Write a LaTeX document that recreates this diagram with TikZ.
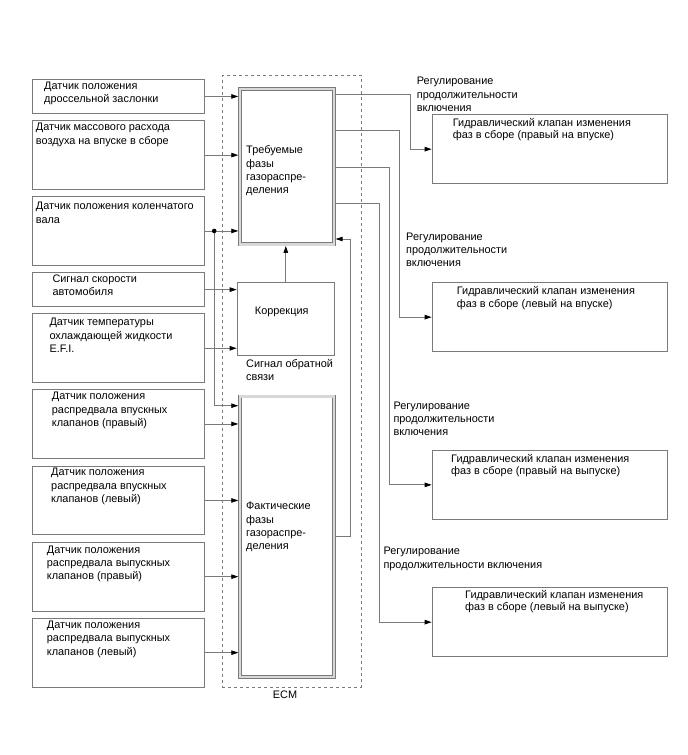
\documentclass[tikz,border=0pt]{standalone}
\usepackage{fontspec}
\setmainfont{Liberation Sans}
\usetikzlibrary{arrows.meta}
\definecolor{lc}{HTML}{7A7A7A}
\definecolor{dbl}{HTML}{D8D8D8}
\begin{document}
\begin{tikzpicture}[x=1pt,y=-1pt,
  every node/.style={font=\fontsize{10.9}{13.3}\selectfont},
  box/.style={draw=lc, line width=0.9pt, anchor=north west, inner sep=0, minimum width=172pt},
  vbox/.style={draw=lc, line width=0.9pt, anchor=north west, inner sep=0, minimum width=235pt, minimum height=68.8pt},
  dbox/.style={draw=lc, line width=0.7pt, double=dbl, double distance=2.4pt, anchor=north west, inner sep=0, outer sep=1.6pt, minimum width=94.1pt},
  txt/.style={anchor=north west, inner sep=0, align=left},
  vtxt/.style={anchor=north west, inner sep=0, align=left, font=\fontsize{10.9}{12.3}\selectfont},
  arr/.style={draw=lc, line width=0.8pt, -{Triangle[length=7pt,width=4.5pt,color=black]}},
  ln/.style={draw=lc, line width=0.8pt}]
\useasboundingbox (0,0) rectangle (688,755);
% ECM frame
\node[draw=lc, line width=0.8pt, dash pattern=on 3pt off 3pt, anchor=north west, inner sep=0, minimum width=139pt, minimum height=611.7pt] (ecm) at (221.7,75) {};
\node (ecml) at (285,695) {ECM};
% sensors
\node[box, minimum height=34pt] (s1) at (32,79) {};
\node[box, minimum height=68.7pt] (s2) at (32,120.3) {};
\node[box, minimum height=69pt] (s3) at (32,196) {};
\node[box, minimum height=33.7pt] (s4) at (32,272.3) {};
\node[box, minimum height=69pt] (s5) at (32,313.3) {};
\node[box, minimum height=68.4pt] (s6) at (32,389.3) {};
\node[box, minimum height=68.6pt] (s7) at (32,465.7) {};
\node[box, minimum height=69pt] (s8) at (32,541.7) {};
\node[box, minimum height=69pt] (s9) at (32,617.7) {};
\node[txt] (t1) at (44,81.5) {Датчик положения\\дроссельной заслонки};
\node[txt] (t2) at (35.7,123.2) {Датчик массового расхода\\воздуха на впуске в сборе};
\node[txt] (t3) at (35.7,202.2) {Датчик положения коленчатого\\вала};
\node[txt] (t4) at (52.3,274.5) {Сигнал скорости\\автомобиля};
\node[txt] (t5) at (49.3,318.2) {Датчик температуры\\охлаждающей жидкости\\E.F.I.};
\node[txt] (t6) at (51.7,392.2) {Датчик положения\\распредвала впускных\\клапанов (правый)};
\node[txt] (t7) at (51,468.2) {Датчик положения\\распредвала впускных\\клапанов (левый)};
\node[txt] (t8) at (46.7,545.5) {Датчик положения\\распредвала выпускных\\клапанов (правый)};
\node[txt] (t9) at (46.7,620.8) {Датчик положения\\распредвала выпускных\\клапанов (левый)};
% ECM blocks
\node[dbox, minimum height=155.4pt] (req) at (238.3,87.3) {};
\node[txt] (treq) at (246,145.8) {Требуемые\\фазы\\газораспре-\\деления};
\node[draw=lc, line width=0.9pt, anchor=north west, inner sep=0, minimum width=97.3pt, minimum height=72.7pt] (cor) at (236.7,282.3) {};
\node (tcor) at (281.7,311.5) {Коррекция};
\node[txt] (fb) at (246,358.8) {Сигнал обратной\\связи};
\node[dbox, minimum height=280.2pt] (act) at (238.3,394.9) {};
\node[txt] (tact) at (246,502.2) {Фактические\\фазы\\газораспре-\\деления};
% valves
\node[vbox] (v1) at (431.7,114.3) {};
\node[vbox] (v2) at (431.7,282.3) {};
\node[vbox] (v3) at (431.7,450) {};
\node[vbox] (v4) at (431.7,587.3) {};
\node[vtxt] (tv1) at (452.7,118.2) {Гидравлический клапан изменения\\фаз в сборе (правый на впуске)};
\node[vtxt] (tv2) at (456.7,286.5) {Гидравлический клапан изменения\\фаз в сборе (левый на впуске)};
\node[vtxt] (tv3) at (451,454.2) {Гидравлический клапан изменения\\фаз в сборе (правый на выпуске)};
\node[vtxt] (tv4) at (465,589.8) {Гидравлический клапан изменения\\фаз в сборе (левый на выпуске)};
% labels
\node[txt] (l1) at (416.7,77.2) {Регулирование\\продолжительности\\включения};
\node[txt] (l2) at (406,232.5) {Регулирование\\продолжительности\\включения};
\node[txt] (l3) at (393.3,401.5) {Регулирование\\продолжительности\\включения};
\node[txt] (l4) at (383.3,547.2) {Регулирование\\продолжительности включения};
% inputs
\draw[arr] (s1.east) -- (s1.east -| req.west);
\draw[arr] (s2.east) -- (s2.east -| req.west);
\draw[arr] (s3.east) -- (s3.east -| req.west);
\draw[arr] (s4.east) -- (s4.east -| cor.west);
\draw[arr] (s5.east) -- (s5.east -| cor.west);
\draw[arr] (s6.east) -- (s6.east -| act.west);
\draw[arr] (s7.east) -- (s7.east -| act.west);
\draw[arr] (s8.east) -- (s8.east -| act.west);
\draw[arr] (s9.east) -- (s9.east -| act.west);
\path (s3.east) ++(9.3,0) coordinate (dot);
\draw[arr] (dot) -- (dot |- 0,405.7) coordinate (jd) -- (jd -| act.west);
\fill[black] (dot) circle (2.3pt);
% internal
\draw[arr] (cor.north) -- (cor.north |- req.south);
\draw[arr] (act.east) -- ++(14.5,0) |- (req.east |- 0,239);
% outputs
\draw[arr] (req.east |- 0,94) -- (410,94) |- (v1.west);
\draw[arr] (req.east |- 0,130.5) -- (399.3,130.5) |- (v2.west);
\draw[arr] (req.east |- 0,167) -- (389,167) |- (v3.west);
\draw[arr] (req.east |- 0,203) -- (379,203) |- (v4.west);
\end{tikzpicture}
\end{document}
